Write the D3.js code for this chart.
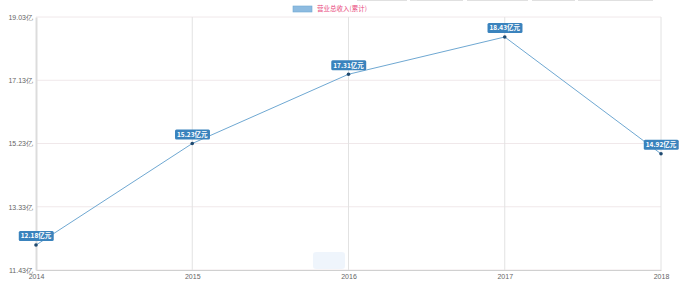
<!DOCTYPE html>
<html>
<head>
<meta charset="utf-8">
<script src="https://cdn.jsdelivr.net/npm/d3@7"></script>
<style>
  body { margin: 0; background: #fff; }
  svg { display: block; font-family: "Noto Sans CJK SC", "DejaVu Sans", sans-serif; }
</style>
</head>
<body>
<div id="chart"></div>
<script>
// data
let years = ["2014", "2015", "2016", "2017", "2018"];
let revenue = [12.18, 15.23, 17.31, 18.43, 14.92];
let yTicks = [11.43, 13.33, 15.23, 17.13, 19.03];
let seriesName = "营业总收入(累计)";

let width = 700, height = 291;
let margin = {top: 17, right: 39, bottom: 21, left: 36};

let svg = d3.select("#chart").append("svg")
    .attr("width", width)
    .attr("height", height);

// faint tab strips along the top edge
[[357, 407], [410, 463], [467, 528], [532, 575], [578, 653]].forEach(function (s) {
    svg.append("rect")
        .attr("x", s[0]).attr("y", 0)
        .attr("width", s[1] - s[0]).attr("height", 1)
        .attr("fill", "#e0e0e0");
});

let x = d3.scalePoint()
    .domain(years)
    .range([margin.left, width - margin.right]);

let y = d3.scaleLinear()
    .domain([yTicks[0], yTicks[yTicks.length - 1]])
    .range([height - margin.bottom, margin.top]);

// horizontal grid
svg.append("g")
    .selectAll("line")
    .data(yTicks)
    .enter().append("line")
    .attr("x1", margin.left).attr("x2", width - margin.right)
    .attr("y1", d => y(d)).attr("y2", d => y(d))
    .attr("stroke", "#f0e8ea")
    .attr("stroke-width", 1);

// vertical grid
svg.append("g")
    .selectAll("line")
    .data(years.slice(1))
    .enter().append("line")
    .attr("x1", d => x(d)).attr("x2", d => x(d))
    .attr("y1", margin.top).attr("y2", height - margin.bottom)
    .attr("stroke", "#e2e2e2")
    .attr("stroke-width", 1);

// axes
let yAxis = svg.append("g")
    .attr("transform", "translate(" + margin.left + ",0)")
    .call(d3.axisLeft(y).tickValues(yTicks).tickSize(0).tickPadding(3)
        .tickFormat(d => d.toFixed(2) + "亿"));
yAxis.select(".domain").attr("stroke", "#dcdcdc").attr("stroke-width", 2);
yAxis.selectAll("text").attr("fill", "#666").style("font-size", "7px");

let xAxis = svg.append("g")
    .attr("transform", "translate(0," + (height - margin.bottom) + ")")
    .call(d3.axisBottom(x).tickSize(0).tickPadding(4));
xAxis.select(".domain").attr("stroke", "#d0d0d0");
xAxis.selectAll("text").attr("fill", "#666").style("font-size", "7px");

// faint watermark blob
svg.append("rect")
    .attr("x", 313).attr("y", 252).attr("width", 32).attr("height", 17)
    .attr("rx", 3)
    .attr("fill", "#e8f1fb").attr("opacity", 0.7);

let pts = years.map((d, i) => ({year: d, value: revenue[i]}));

// line
svg.append("path")
    .datum(pts)
    .attr("fill", "none")
    .attr("stroke", "#6fa8d2")
    .attr("stroke-width", 1)
    .attr("d", d3.line()
        .x(d => x(d.year))
        .y(d => y(d.value)));

// points
svg.append("g")
    .selectAll("circle")
    .data(pts)
    .enter().append("circle")
    .attr("cx", d => x(d.year))
    .attr("cy", d => y(d.value))
    .attr("r", 1.8)
    .attr("fill", "#1f4a70");

// clip for labels at the right edge
svg.append("clipPath").attr("id", "clipR")
    .append("rect").attr("x", 0).attr("y", 0).attr("width", 679).attr("height", height);

// value labels
let labels = svg.append("g").attr("clip-path", "url(#clipR)")
    .selectAll("g")
    .data(pts)
    .enter().append("g")
    .attr("transform", d => "translate(" + x(d.year) + "," + (y(d.value) - 9) + ")");

labels.append("rect")
    .attr("fill", "#3a83bd")
    .attr("rx", 1.5);

labels.append("text")
    .attr("text-anchor", "middle")
    .attr("dy", "0.35em")
    .attr("fill", "#fff")
    .style("font-size", "6.5px")
    .style("font-weight", "bold")
    .text(d => d.value.toFixed(2) + "亿元");

labels.each(function () {
    let g = d3.select(this);
    let b = g.select("text").node().getBBox();
    g.select("rect")
        .attr("x", b.x - 2).attr("y", -5)
        .attr("width", b.width + 4).attr("height", 10);
});

// legend
let legend = svg.append("g").attr("transform", "translate(293,6)");
legend.append("rect")
    .attr("width", 19).attr("height", 6)
    .attr("fill", "#8dbbe0")
    .attr("stroke", "#6fa8d2")
    .attr("stroke-width", 0.6);
legend.append("text")
    .attr("x", 24).attr("y", 3)
    .attr("dy", "0.35em")
    .attr("fill", "#e8477c")
    .style("font-size", "6.5px")
    .text(seriesName);
</script>
</body>
</html>
